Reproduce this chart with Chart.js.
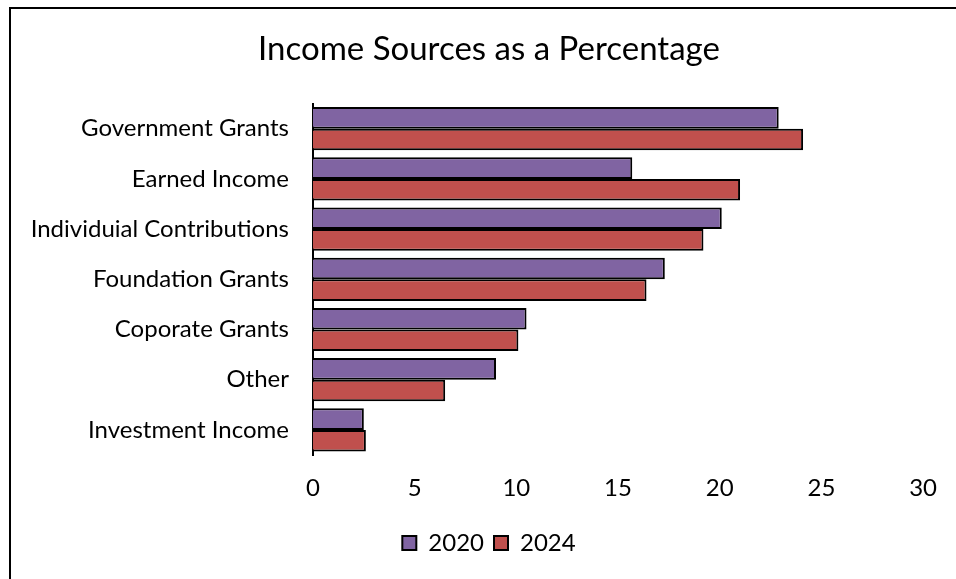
<!DOCTYPE html>
<html>
<head>
<meta charset="utf-8">
<script src="https://cdn.jsdelivr.net/npm/chart.js@4"></script>
<style>
  body { margin: 0; overflow: hidden; background: #fff; }
  .wrap { position: relative; width: 956px; height: 579px; }
  .frame { position: absolute; left: 9px; top: 7px; width: 1000px; height: 1000px;
           border-top: 2px solid #000; border-left: 2px solid #000; pointer-events: none; }
</style>
</head>
<body>
<div class="wrap">
  <canvas id="incomeChart" width="956" height="579"></canvas>
  <div class="frame"></div>
</div>
<script>
const categories = ['Government Grants', 'Earned Income', 'Individuial Contributions',
  'Foundation Grants', 'Coporate Grants', 'Other', 'Investment Income']
const values2020 = [22.9, 15.7, 20.1, 17.3, 10.5, 9.0, 2.5]
const values2024 = [24.1, 21.0, 19.2, 16.4, 10.1, 6.5, 2.6]
const xTicks = [0, 5, 10, 15, 20, 25, 30]

const font = 'Lato, "Open Sans", sans-serif'

const ctx = document.getElementById('incomeChart').getContext('2d')

new Chart(ctx, {
  type: 'bar',
  data: {
    labels: categories,
    datasets: [
      { label: '2020', data: values2020, backgroundColor: '#8064A2', borderColor: '#000', borderWidth: 2 },
      { label: '2024', data: values2024, backgroundColor: '#C0504D', borderColor: '#000', borderWidth: 2 }
    ]
  },
  options: {
    indexAxis: 'y',
    responsive: false,
    animation: false,
    categoryPercentage: 0.86,
    barPercentage: 1,
    layout: { padding: { left: 26, right: 4, top: 0, bottom: 14 } },
    plugins: {
      title: {
        display: true,
        text: 'Income Sources as a Percentage',
        color: '#000',
        font: { family: font, size: 33, weight: 'normal' },
        padding: { top: 30, bottom: 34 }
      },
      legend: {
        position: 'bottom',
        labels: {
          color: '#000',
          font: { family: font, size: 24 },
          boxWidth: 14,
          boxHeight: 14,
          padding: 10
        }
      },
      tooltip: { enabled: false }
    },
    scales: {
      x: {
        min: 0,
        max: 30,
        afterBuildTicks: axis => { axis.ticks = xTicks.map(v => ({ value: v })) },
        afterFit: axis => { axis.height = 66 },
        grid: { display: false, drawTicks: false },
        border: { display: false },
        ticks: { color: '#000', font: { family: font, size: 24 }, padding: 19, maxRotation: 0 }
      },
      y: {
        afterFit: axis => { axis.width = 287 },
        grid: { display: false, drawTicks: false },
        border: { display: true, color: '#000', width: 2 },
        ticks: { color: '#000', font: { family: font, size: 24 }, padding: 24 }
      },
      // empty right-hand spacer so the plot ends at 30 while title/legend stay centred like the original
      yRight: {
        type: 'linear',
        axis: 'y',
        position: 'right',
        afterFit: axis => { axis.width = 25 },
        grid: { display: false, drawTicks: false },
        border: { display: false },
        ticks: { display: false }
      }
    }
  }
})
</script>
</body>
</html>
